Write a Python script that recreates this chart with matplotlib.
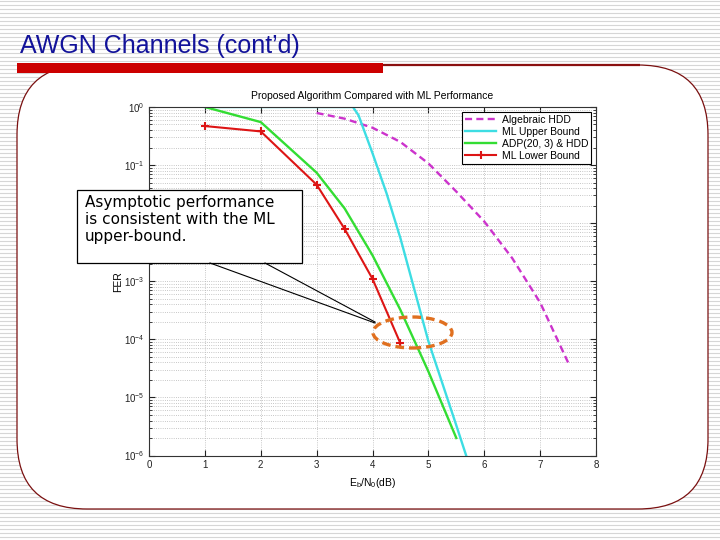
import matplotlib
matplotlib.use('Agg')
import matplotlib.pyplot as plt
from matplotlib.patches import FancyBboxPatch, Rectangle, Ellipse
from matplotlib.ticker import LogLocator, FixedLocator

slide_title = "AWGN Channels (cont\u2019d)"
chart_title = "Proposed Algorithm Compared with ML Performance"
x_label = r"E$_\mathregular{b}$/N$_\mathregular{0}$(dB)"
y_label = "FER"
note_text = "Asymptotic performance\nis consistent with the ML\nupper-bound."
series_names = ["Algebraic HDD", "ML Upper Bound", "ADP(20, 3) & HDD", "ML Lower Bound"]
x_ticks = [0, 1, 2, 3, 4, 5, 6, 7, 8]

hdd_snr = [3.0, 3.5, 4.0, 4.5, 5.0, 5.5, 6.0, 6.5, 7.0, 7.5]
hdd_fer = [0.79, 0.63, 0.44, 0.25, 0.107, 0.035, 0.0107, 2.5e-3, 4.3e-4, 4.0e-5]

ub_snr = [1.0, 2.0, 3.0, 3.65, 3.75, 4.0, 4.25, 4.5, 5.0, 5.5, 5.7]
ub_fer = [1.0, 1.0, 1.0, 1.0, 0.72, 0.16, 0.033, 5.5e-3, 9.3e-5, 3.3e-6, 8.5e-7]

adp_snr = [1.0, 2.0, 3.0, 3.5, 4.0, 4.5, 5.0, 5.5]
adp_fer = [1.0, 0.55, 0.074, 0.018, 2.8e-3, 3.2e-4, 2.8e-5, 2.0e-6]

lb_snr = [1.0, 2.0, 3.0, 3.5, 4.0, 4.5]
lb_fer = [0.47, 0.38, 0.046, 8.0e-3, 1.1e-3, 8.5e-5]

plt.rcParams['font.family'] = ['Liberation Sans', 'DejaVu Sans']
plt.rcParams['mathtext.default'] = 'regular'

W, H = 720, 540
fig = plt.figure(figsize=(7.2, 5.4), dpi=100)
fig.patch.set_facecolor('white')

def Y(y):
    return H - y

# ---- slide background ----
bg = fig.add_axes([0, 0, 1, 1], zorder=0)
bg.set_xlim(0, W)
bg.set_ylim(0, H)
bg.axis('off')
for yy in range(1, H, 4):
    bg.axhline(Y(yy), color='#d6d6d6', lw=0.8, zorder=1)
frame = FancyBboxPatch((17, Y(509)), 691, 444,
                       boxstyle="round,pad=0,rounding_size=70",
                       facecolor='white', edgecolor='#7a1010', lw=0.9, zorder=3)
bg.add_patch(frame)
bg.plot([383, 640], [Y(65), Y(65)], color='#8a1010', lw=1.6, solid_capstyle='butt', zorder=4)
bg.add_patch(Rectangle((17, Y(73)), 366, 10, facecolor='#cc0000', edgecolor='none', zorder=5))
bg.text(20, Y(53), slide_title, fontsize=18, color='#12129a', va='baseline', ha='left',
        zorder=6)

# ---- chart ----
ax = fig.add_axes([149 / W, (H - 455.5) / H, 447 / W, 348.5 / H], zorder=1)
ax.set_yscale('log')
ax.set_xlim(0, 8)
ax.set_ylim(1e-6, 1)

ax.plot(hdd_snr, hdd_fer, color='#cc33cc', lw=1.7, ls=(0, (3, 1.8)), label=series_names[0])
ax.plot(ub_snr, ub_fer, color='#3ddde3', lw=1.7, label=series_names[1])
ax.plot(adp_snr, adp_fer, color='#33dd33', lw=1.7, label=series_names[2])
ax.plot(lb_snr, lb_fer, color='#dd1515', lw=1.5, marker='+', ms=6, mew=1.5,
        label=series_names[3])

ax.xaxis.set_major_locator(FixedLocator(x_ticks))
ax.yaxis.set_major_locator(LogLocator(base=10, numticks=10))
ax.yaxis.set_minor_locator(LogLocator(base=10, subs=range(2, 10), numticks=100))
ax.tick_params(which='both', direction='in', top=True, right=True, labelsize=7,
               colors='#222222')
ax.tick_params(which='major', length=4)
ax.tick_params(which='minor', length=2.5)
ax.grid(True, which='major', ls=':', color='#b4b4b4', lw=0.6)
ax.grid(True, which='minor', axis='y', ls=':', color='#b4b4b4', lw=0.6)
for s in ax.spines.values():
    s.set_color('#333333')
    s.set_linewidth(0.8)

ax.set_title(chart_title, fontsize=7.5, pad=6)
ax.set_xlabel(x_label, fontsize=7.5, labelpad=4)
ax.set_ylabel(y_label, fontsize=7.5, labelpad=0)

fig.canvas.draw()
# the 1e-2 tick label is hidden behind the callout box in the slide
for t in ax.get_yticklabels():
    if abs(t.get_position()[1] - 1e-2) < 1e-9:
        t.set_visible(False)

leg = ax.legend(loc='upper right', fontsize=7.5, frameon=True, fancybox=False,
                edgecolor='black', framealpha=1, borderpad=0.3, labelspacing=0.2,
                handlelength=3.0, handletextpad=0.5, borderaxespad=0.45)
leg.get_frame().set_linewidth(0.8)

# ---- overlay annotation ----
ov = fig.add_axes([0, 0, 1, 1], zorder=3)
ov.set_xlim(0, W)
ov.set_ylim(0, H)
ov.axis('off')
ov.patch.set_alpha(0)
ov.plot([210, 375], [Y(263), Y(323)], color='black', lw=0.8)
ov.plot([265, 375], [Y(263), Y(322)], color='black', lw=0.8)
ov.add_patch(Rectangle((77, Y(263)), 225, 73, facecolor='white', edgecolor='black', lw=0.9))
ov.text(85, Y(195), note_text, fontsize=11, family='DejaVu Sans', va='top', ha='left',
        linespacing=1.15, color='black')
ov.add_patch(Ellipse((412.5, Y(332.5)), 79, 31, facecolor='none', edgecolor='#e07020',
                     lw=2.4, ls=(0, (2.6, 1.5))))

fig.savefig('out.png', dpi=100)
